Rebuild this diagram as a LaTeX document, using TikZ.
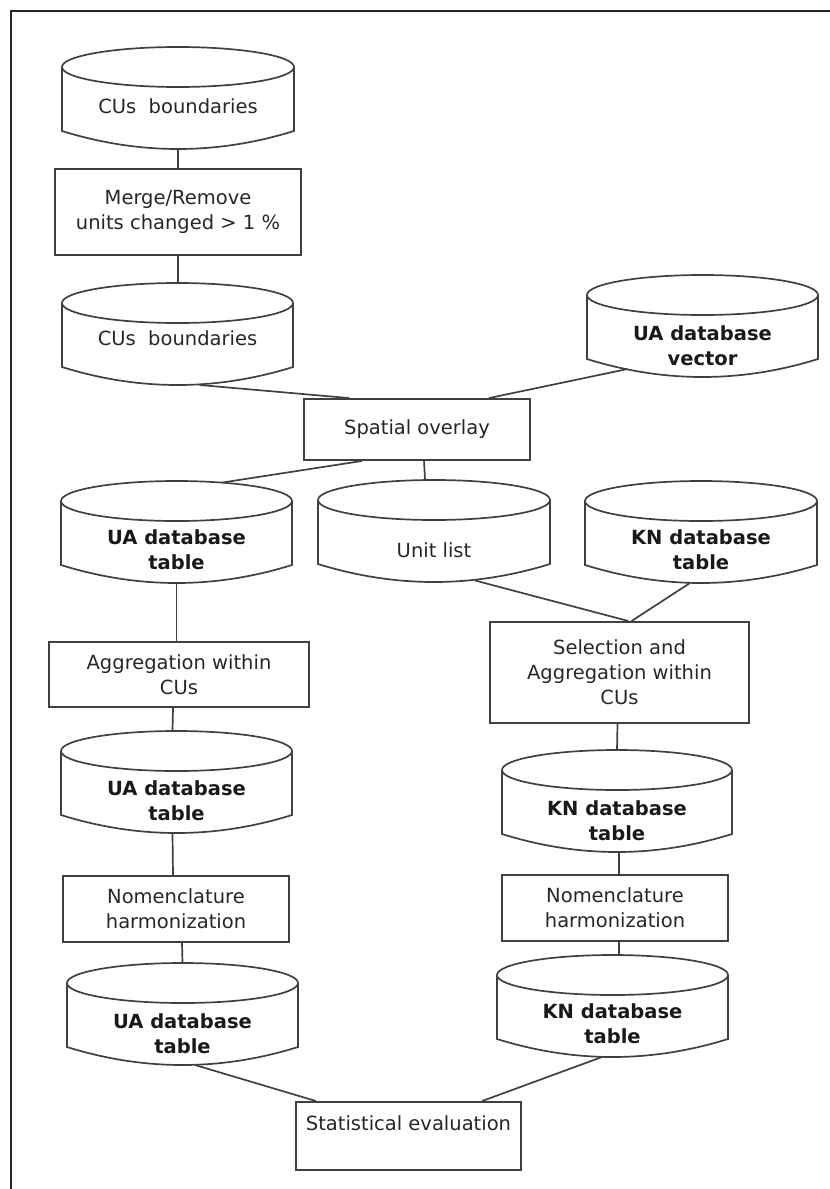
\documentclass[tikz,border=0pt]{standalone}
\usepackage{fontspec}
\setmainfont{DejaVu Sans}
\usetikzlibrary{calc}
\tikzset{
  shp/.style={draw=black!75, line width=1.7pt},
  procbox/.style={draw=black!75, line width=1.9pt, align=center, inner sep=0pt,
    font=\fontsize{19.5}{25}\selectfont, text=black!85},
  dbtext/.style={align=center, inner sep=0pt, font=\fontsize{19.5}{25}\selectfont\bfseries, text=black!90},
  dbplain/.style={align=center, inner sep=0pt, font=\fontsize{19.5}{25}\selectfont, text=black!85},
  conn/.style={draw=black!75, line width=1.7pt},
  frameline/.style={draw=black!85, line width=2.2pt},
}
% cylinder outline: name, cx, top, halfwidth
\newcommand\dbshape[4]{%
  \coordinate (#1-n) at (#2,#3);
  \coordinate (#1-s) at (#2,#3+102);
  \draw[shp] (#2-#4,#3+20) -- (#2-#4,#3+84)
    .. controls (#2-#4/3,#3+108) and (#2+#4/3,#3+108) .. (#2+#4,#3+84)
    -- (#2+#4,#3+20);
  \draw[shp] (#2,#3+20) ellipse [x radius=#4, y radius=20];
}
\begin{document}
\begin{tikzpicture}[x=1pt,y=-1pt]
\useasboundingbox (0,0) rectangle (830,1189);
\draw[frameline] (11,1189) -- (11,11) -- (830,11);

% data stores
\dbshape{cuA}{178}{47}{116}
\node[dbplain] (cuAt) at (178,106) {CUs\ \ boundaries};
\dbshape{cuB}{177.5}{283}{115.5}
\node[dbplain] (cuBt) at (177.5,338) {CUs\ \ boundaries};
\dbshape{uavec}{702.5}{275}{115.5}
\node[dbtext] (uavect) at (702.5,345.5) {UA database\\vector};
\dbshape{uat1}{176.5}{481}{115.5}
\node[dbtext] (uat1t) at (176.5,549.5) {UA database\\table};
\dbshape{unit}{434}{480}{116}
\node[dbplain] (unitt) at (434,550) {Unit list};
\dbshape{knt1}{701}{481}{116}
\node[dbtext] (knt1t) at (701,549.5) {KN database\\table};
\dbshape{uat2}{176.5}{731}{115.5}
\node[dbtext] (uat2t) at (176.5,801) {UA database\\table};
\dbshape{knt2}{617}{750}{115}
\node[dbtext] (knt2t) at (617,820.5) {KN database\\table};
\dbshape{uat3}{182.5}{963}{115.5}
\node[dbtext] (uat3t) at (182.5,1034) {UA database\\table};
\dbshape{knt3}{612.5}{955}{115.5}
\node[dbtext] (knt3t) at (612.5,1023.5) {KN database\\table};

% process boxes
\node[procbox, minimum width=246pt, minimum height=86pt] (merge) at (178,212) {Merge/Remove\\units changed > 1 \%};
\node[procbox, minimum width=226pt, minimum height=61pt] (spatial) at (417,429.5) {Spatial overlay};
\node[procbox, minimum width=260pt, minimum height=65pt] (aggr) at (179,674.5) {Aggregation within\\CUs};
\node[procbox, minimum width=259pt, minimum height=101pt] (select) at (619.5,672.5) {Selection and\\Aggregation within\\CUs};
\node[procbox, minimum width=226pt, minimum height=66pt] (nomL) at (176,909) {Nomenclature\\harmonization};
\node[procbox, minimum width=226pt, minimum height=66pt] (nomR) at (615,908) {Nomenclature\\harmonization};
\node[procbox, minimum width=225pt, minimum height=68pt] (stat) at (408.5,1136) {Statistical evaluation\\\mbox{}};

% connectors
\draw[conn] (cuA-s) -- (cuA-s |- merge.north);
\draw[conn] (merge.south) -- (merge.south |- cuB-n);
\draw[conn] ($(cuB-s)+(22,0)$) -- ($(spatial.north west)+(46,0)$);
\draw[conn] ($(uavec-s)+(-75,-8)$) -- ($(spatial.north west)+(186,0)$);
\draw[conn] ($(spatial.south west)+(59,0)$) -- ($(uat1-n)+(46,1.5)$);
\draw[conn] ($(spatial.south west)+(121,0)$) -- ($(unit-n)+(-9,0)$);
\draw[conn] (uat1-s) -- (uat1-s |- aggr.north);
\draw[conn] ($(aggr.south)+(-6,0)$) -- ($(uat2-n)+(-4,0)$);
\draw[conn] ($(uat2-s)+(-4,0)$) -- ($(nomL.north)+(-3,0)$);
\draw[conn] ($(nomL.south)+(6,0)$) -- (uat3-n);
\draw[conn] ($(unit-s)+(41,-1.5)$) -- ($(select.north)+(9,0)$);
\draw[conn] ($(knt1-s)+(-11,0)$) -- ($(select.north)+(12,0)$);
\draw[conn] ($(select.south)+(-2,0)$) -- (knt2-n);
\draw[conn] ($(knt2-s)+(2,0)$) -- ($(nomR.north)+(4,0)$);
\draw[conn] ($(nomR.south)+(4,0)$) -- ($(knt3-n)+(6.5,0)$);
\draw[conn] ($(uat3-s)+(12.5,0)$) -- ($(stat.north west)+(21,0)$);
\draw[conn] ($(knt3-s)+(-10.5,0)$) -- ($(stat.north west)+(187,0)$);
\end{tikzpicture}
\end{document}
